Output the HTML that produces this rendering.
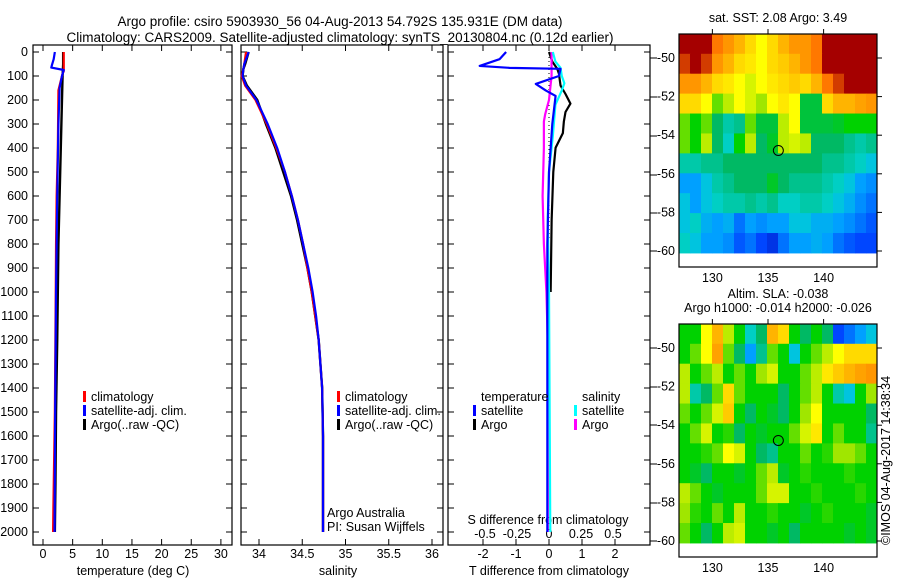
<!DOCTYPE html>
<html><head><meta charset="utf-8"><style>
body{margin:0;background:#fff}
svg{display:block;font-family:"Liberation Sans",sans-serif}
text{font-size:12.5px;fill:#000}
</style></head><body>
<svg id="chart" width="900" height="580" viewBox="0 0 900 580">
<text x="340" y="26" text-anchor="middle" style="font-size:13.5px">Argo profile: csiro 5903930_56 04-Aug-2013 54.792S 135.931E (DM data)</text>
<text x="340" y="42" text-anchor="middle" style="font-size:13.5px">Climatology: CARS2009. Satellite-adjusted climatology: synTS_20130804.nc (0.12d earlier)</text>
<g id="g"></g>
</svg>
<script>
// ---------- data ----------
const depthTicks=[0,100,200,300,400,500,600,700,800,900,1000,1100,1200,1300,1400,1500,1600,1700,1800,1900,2000];
const tempTicks=[0,5,10,15,20,25,30];
const salTicks=[34,34.5,35,35.5,36];
const salTickLabels=["34","34.5","35","35.5","36"];
const tdTicks=[-2,-1,0,1,2];
const sdTicks=[-0.5,-0.25,0,0.25,0.5];
const sdTickLabels=["-0.5","-0.25","0","0.25","0.5"];

const climTDepth=[0,80,90,160,400,600,800,1000,1500,1900,2000];
const climT=[3.5,3.5,3.3,2.6,2.5,2.3,2.2,2.15,2.0,1.75,1.7];
const satTDepth=[0,30,55,65,75,100,150,300,600,1000,1500,2000];
const satT=[2.0,1.8,1.5,1.4,3.5,3.2,2.8,2.6,2.4,2.2,2.05,1.95];
const argoTDepth=[0,50,100,200,300,400,500,600,800,1000,1200,1500,1800,2000];
const argoT=[3.4,3.4,3.3,3.2,3.1,3.0,2.9,2.8,2.6,2.5,2.4,2.2,2.1,2.0];

const salDepth=[0,50,70,100,140,200,300,400,500,600,700,800,900,1000,1100,1200,1300,1400,1600,2000];
const climS=[33.85,33.83,33.82,33.8,33.84,33.96,34.09,34.2,34.3,34.38,34.45,34.51,34.56,34.61,34.65,34.69,34.71,34.73,34.74,34.74];
const satS=[33.88,33.83,33.82,33.81,33.85,33.97,34.1,34.21,34.3,34.38,34.45,34.51,34.57,34.62,34.66,34.69,34.71,34.73,34.74,34.74];
const argoS=[33.88,33.84,33.82,33.81,33.86,33.98,34.08,34.19,34.28,34.37,34.44,34.5,34.56,34.61,34.65,34.69,34.71,34.73,34.74,34.74];

const tdSatDepth=[0,30,58,66,70,100,133,160,183,300,500,800,2000];
const tdSat=[-1.3,-1.5,-2.1,-1.2,0.35,0.3,-0.4,-0.1,0.2,0.1,0.0,-0.05,-0.05];
const tdArgoDepth=[0,40,70,90,140,175,215,250,290,338,399,500,700,1000];
const tdArgo=[0.0,0.1,0.25,0.3,0.35,0.5,0.65,0.5,0.45,0.42,0.2,0.13,0.08,0.05];
const sdSatDepth=[0,40,66,100,130,160,220,350,500,700,1000,2000];
const sdSat=[0.03,0.05,0.09,0.1,0.12,0.1,0.05,0.03,0.0,-0.01,0.0,0.01];
const sdArgoDepth=[0,100,150,200,260,290,400,600,800,1000,1200,2000];
const sdArgo=[0.02,0.02,0.01,0.0,-0.03,-0.04,-0.04,-0.05,-0.04,-0.02,-0.01,-0.01];

const mapLonTicks=[130,135,140];
const mapLatTicks=[-50,-52,-54,-56,-58,-60];
const sstGrid=[
[1,1,.95,.85,.8,.75,.7,.65,.7,.75,.8,.8,.85,1,1,1,1,1],
[.9,.95,.9,.8,.75,.7,.68,.65,.7,.72,.75,.8,.85,1,1,1,1,1],
[.8,.8,.75,.7,.68,.65,.62,.65,.68,.7,.72,.7,.75,.85,.9,.95,.95,.95],
[.7,.7,.65,.55,.6,.65,.62,.58,.65,.68,.65,.47,.47,.7,.75,.75,.78,.8],
[.55,.5,.55,.45,.4,.42,.55,.47,.47,.6,.65,.47,.47,.47,.48,.5,.5,.5],
[.55,.5,.6,.45,.38,.5,.6,.45,.48,.6,.62,.6,.45,.45,.45,.42,.4,.42],
[.4,.4,.42,.42,.45,.45,.45,.45,.45,.45,.45,.45,.45,.42,.42,.4,.38,.35],
[.3,.3,.35,.4,.42,.45,.45,.45,.48,.45,.42,.42,.42,.4,.38,.35,.3,.28],
[.35,.3,.35,.38,.4,.4,.42,.4,.42,.38,.38,.4,.4,.38,.35,.32,.28,.25],
[.35,.38,.32,.3,.32,.25,.3,.28,.3,.3,.35,.35,.32,.32,.3,.28,.25,.22],
[.38,.35,.3,.3,.28,.22,.25,.2,.15,.25,.3,.3,.32,.3,.25,.22,.2,.2]];
const slaGrid=[
[.5,.5,.65,.75,.6,.5,.38,.45,.75,.7,.5,.45,.5,.45,.2,.25,.3,.35],
[.5,.55,.65,.78,.55,.45,.3,.42,.55,.5,.35,.5,.55,.6,.65,.7,.7,.7],
[.6,.5,.55,.6,.5,.55,.5,.58,.62,.5,.5,.55,.6,.68,.72,.75,.78,.8],
[.6,.4,.45,.55,.7,.55,.5,.5,.5,.45,.5,.55,.6,.5,.4,.35,.5,.58],
[.55,.5,.55,.62,.72,.5,.45,.5,.48,.45,.5,.58,.65,.5,.5,.5,.5,.45],
[.5,.55,.62,.5,.52,.45,.5,.48,.5,.5,.55,.62,.68,.5,.55,.5,.5,.42],
[.5,.5,.52,.55,.65,.62,.5,.45,.42,.5,.5,.55,.5,.52,.58,.58,.55,.5],
[.5,.48,.45,.5,.5,.48,.5,.55,.6,.48,.5,.52,.5,.5,.5,.52,.5,.5],
[.6,.55,.5,.48,.5,.5,.5,.55,.62,.62,.5,.5,.52,.5,.5,.5,.52,.5],
[.58,.52,.5,.55,.5,.6,.5,.5,.52,.5,.5,.48,.5,.52,.5,.5,.5,.48],
[.55,.5,.45,.5,.6,.62,.5,.5,.48,.5,.45,.5,.5,.5,.5,.48,.5,.48]];
const floatLon=135.931, floatLat=-54.792;

// ---------- helpers ----------
const NS="http://www.w3.org/2000/svg";
const G=document.getElementById('g');
function mk(tag,attrs,parent){const e=document.createElementNS(NS,tag);for(const k in attrs)e.setAttribute(k,attrs[k]);(parent||G).appendChild(e);return e;}
const PT=45,PB=545;
const yD=d=>52+d*0.24;
const xT=t=>43+t*5.93;
const xS=s=>259+(s-34)*86.5;
const xTD=t=>549+t*33;
const xSD=s=>549+s*128;

function panel(x0,x1,name){
  const r=mk('rect',{x:x0,y:PT,width:x1-x0,height:PB-PT,fill:'none',stroke:'#000','stroke-width':1.2});
  
  
  depthTicks.forEach(d=>{
    const t1=mk('line',{x1:x0,x2:x0+6,y1:yD(d),y2:yD(d),stroke:'#000'});
    
    
    const t2=mk('line',{x1:x1-6,x2:x1,y1:yD(d),y2:yD(d),stroke:'#000'});
    
    
  });
}
function xticks(ticks,labels,fx,name,ylab){
  ticks.forEach((v,i)=>{
    const x=fx(v);
    const a=mk('line',{x1:x,x2:x,y1:PB,y2:PB-6,stroke:'#000'});
    
    
    const b=mk('line',{x1:x,x2:x,y1:PT,y2:PT+6,stroke:'#000'});
    
    
    const t=mk('text',{x:x,y:ylab,'text-anchor':'middle'});
    t.textContent=labels?labels[i]:String(v);
    
    
  });
}
function line(ds,vs,fx,color,name,w){
  const p=mk('polyline',{points:ds.map((d,i)=>fx(vs[i])+','+yD(d)).join(' '),fill:'none',stroke:color,'stroke-width':w||2.2,'stroke-linejoin':'round'});
  
  
}
function legend(x,y,color,label,name){
  if(color){const b=mk('rect',{x:x,y:y-10,width:3,height:11,fill:color});
    
    }
  const t=mk('text',{x:x+8,y:y});t.textContent=label;
  
  
}

// panels
panel(33,232,'temperature-panel');
panel(241,443,'salinity-panel');
panel(448,650,'difference-panel');
depthTicks.forEach(d=>{const t=mk('text',{x:28,y:yD(d)+4,'text-anchor':'end'});t.textContent=d;
  
  });
xticks(tempTicks,null,xT,'temperature-axis',558);
xticks(salTicks,salTickLabels,xS,'salinity-axis',558);
xticks(tdTicks,null,xTD,'t-diff-axis',558);
sdTicks.forEach((v,i)=>{const t=mk('text',{x:xSD(v),y:538,'text-anchor':'middle'});t.textContent=sdTickLabels[i];
  
  });
[[133,'temperature (deg C)','temperature-axis-title'],[338,'salinity','salinity-axis-title'],[549,'T difference from climatology','t-diff-axis-title']].forEach(a=>{
  const t=mk('text',{x:a[0],y:575,'text-anchor':'middle'});t.textContent=a[1];
  
  });
{const t=mk('text',{x:548,y:524,'text-anchor':'middle'});t.textContent='S difference from climatology';
  
  }
// right stray ticks of difference panel
[58,97,136,175,213,251,348,387,425,464,503,541].forEach(y=>{const l=mk('line',{x1:650,x2:657,y1:y,y2:y,stroke:'#000'});
  
  });

// series
line(argoTDepth,argoT,xT,'#000','argo-temperature-line',2.4);
line(climTDepth,climT,xT,'#f00','climatology-temperature-line');
line(satTDepth,satT,xT,'#00f','satellite-temperature-line');
line(salDepth,argoS,xS,'#000','argo-salinity-line',2.4);
line(salDepth,climS,xS,'#f00','climatology-salinity-line');
line(salDepth,satS,xS,'#00f','satellite-salinity-line');
{const z=mk('line',{x1:549,x2:549,y1:PT,y2:yD(780),stroke:'#000','stroke-dasharray':'1,3'});
  
  }
line(tdArgoDepth,tdArgo,xTD,'#000','argo-t-diff-line');
line(sdArgoDepth,sdArgo,xSD,'#f0f','argo-s-diff-line');
line(sdSatDepth,sdSat,xSD,'#0ff','satellite-s-diff-line');
line(tdSatDepth,tdSat,xTD,'#00f','satellite-t-diff-line');

legend(83,401,'#f00','climatology','legend-climatology');
legend(83,415,'#00f','satellite-adj. clim.','legend-satellite');
legend(83,429,'#000','Argo(..raw -QC)','legend-argo');
legend(337,401,'#f00','climatology','legend-climatology-2');
legend(337,415,'#00f','satellite-adj. clim.','legend-satellite-2');
legend(337,429,'#000','Argo(..raw -QC)','legend-argo-2');
legend(473,401,null,'temperature','legend-temperature-heading');
legend(473,415,'#00f','satellite','legend-t-satellite');
legend(473,429,'#000','Argo','legend-t-argo');
legend(574,401,null,'salinity','legend-salinity-heading');
legend(574,415,'#0ff','satellite','legend-s-satellite');
legend(574,429,'#f0f','Argo','legend-s-argo');
{const t=mk('text',{x:327,y:517});t.textContent='Argo Australia';
  
 const u=mk('text',{x:327,y:531});u.textContent='PI: Susan Wijffels';
  }

// ---------- maps ----------
const stops=[[0,[0,0,150]],[.2,[0,70,255]],[.3,[0,160,255]],[.37,[0,210,210]],[.45,[0,185,100]],[.5,[0,210,0]],[.58,[160,230,0]],[.65,[255,255,0]],[.75,[255,180,0]],[.85,[255,120,0]],[.95,[165,0,0]],[1,[165,0,0]]];
function cmap(v){for(let i=1;i<stops.length;i++){if(v<=stops[i][0]){const a=stops[i-1],b=stops[i],f=(v-a[0])/(b[0]-a[0]||1);
  return 'rgb('+a[1].map((c,k)=>Math.round(c+(b[1][k]-c)*f)).join(',')+')';}}return 'rgb(165,0,0)';}
function map(top,grid,name,t1,t2){
  const L=679,R=877,lon0=127,lon1=144.8;
  const xL=lon=>L+(lon-lon0)/(lon1-lon0)*(R-L);
  const yL=lat=>top+24+(-50-lat)*19.3;
  const latTop=-48.75,latBot=-60.1;
  const nr=grid.length,nc=grid[0].length;
  const ch=(yL(latBot)-yL(latTop))/nr, cw=(R-L)/nc;
  grid.forEach((row,i)=>row.forEach((v,j)=>{
    const c=mk('rect',{x:L+j*cw,y:yL(latTop)+i*ch,width:cw+0.5,height:ch+0.5,fill:cmap(v)});
    
    
  }));
  const b=mk('rect',{x:L,y:top,width:R-L,height:233,fill:'none',stroke:'#000','stroke-width':1.2});
  
  
  mapLatTicks.forEach(lat=>{const y=yL(lat);
    const l=mk('line',{x1:R,x2:R+5,y1:y,y2:y,stroke:'#000'});
    
    const t=mk('text',{x:L-4,y:y+4,'text-anchor':'end'});t.textContent=lat;
    });
  mapLonTicks.forEach(lon=>{const x=xL(lon);
    const l=mk('line',{x1:x,x2:x,y1:top,y2:top-5,stroke:'#000'});
    
    const t=mk('text',{x:x,y:top+248,'text-anchor':'middle'});t.textContent=lon;
    });
  const m=mk('circle',{cx:xL(floatLon),cy:yL(floatLat),r:5,fill:'none',stroke:'#000'});
  
  t1.forEach((s,i)=>{const t=mk('text',{x:778,y:top-12-(t1.length-1-i)*14,'text-anchor':'middle'});t.textContent=s;
    });
}
map(34,sstGrid,'sst-map',['sat. SST: 2.08 Argo: 3.49']);
map(324,slaGrid,'sla-map',['Altim. SLA: -0.038','Argo h1000: -0.014 h2000: -0.026']);
{const t=mk('text',{x:0,y:0,transform:'translate(890,545) rotate(-90)'});t.textContent='©IMOS 04-Aug-2017 14:38:34';
  }
</script>
</body></html>
